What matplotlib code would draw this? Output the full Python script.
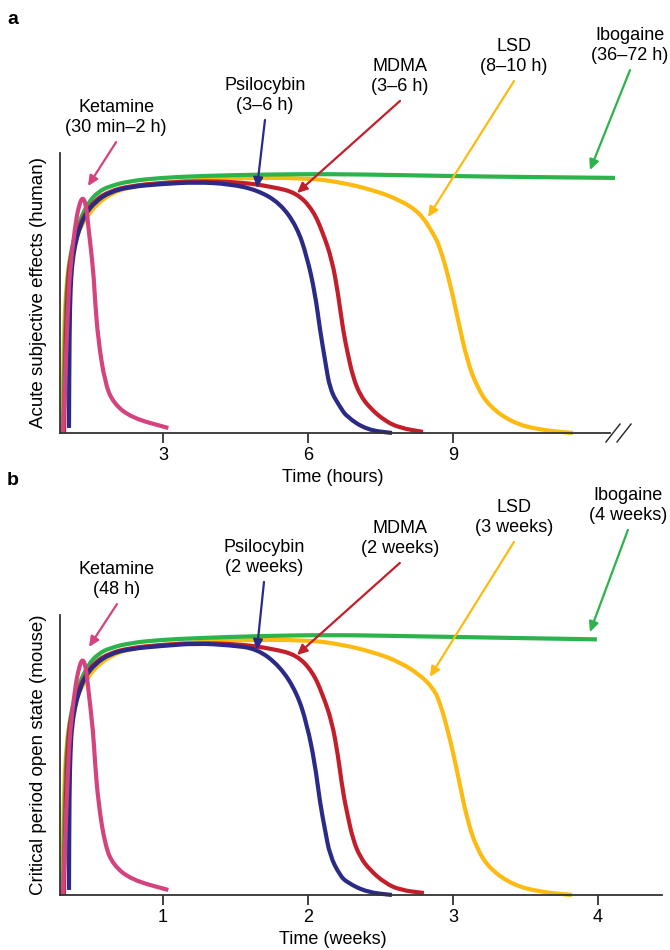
import matplotlib
matplotlib.use("Agg")
import matplotlib.pyplot as plt
from matplotlib.path import Path
from matplotlib.patches import PathPatch

plt.rcParams["font.family"] = ["Liberation Sans", "DejaVu Sans"]

# colours of the five drugs
PINK = "#d5437f"
BLUE = "#2b2a87"
RED = "#c21f2b"
YELLOW = "#fdbb12"
GREEN = "#2db34b"

# ---- panel a: acute effects, time in hours, effect normalised 0..1 ---------
ket_h = [0.93, 1.04, 1.076, 1.18, 1.26, 1.34, 1.41, 1.455, 1.558, 1.593, 1.66, 1.80, 1.97, 2.35, 3.11]
ket_a = [0.0, 0.475, 0.582, 0.737, 0.814, 0.844, 0.814, 0.737, 0.582, 0.475, 0.332, 0.179, 0.107, 0.054, 0.018]

psi_h = [1.055, 1.066, 1.086, 1.117, 1.179, 1.262, 1.386, 1.593, 1.904, 2.317, 2.938, 3.704, 4.387,
         4.945, 5.421, 5.773, 5.980, 6.145, 6.249, 6.352, 6.456, 6.663, 6.807, 7.221, 7.738]
psi_a = [0.018, 0.368, 0.511, 0.600, 0.671, 0.725, 0.779, 0.825, 0.861, 0.879, 0.889, 0.896, 0.889,
         0.868, 0.821, 0.736, 0.629, 0.500, 0.368, 0.261, 0.154, 0.093, 0.057, 0.011, 0.0]

mdma_h = [0.952, 0.993, 1.035, 1.097, 1.200, 1.366, 1.593, 1.904, 2.317, 2.938, 3.704, 4.593, 5.276,
          5.773, 6.104, 6.311, 6.497, 6.621, 6.725, 6.828, 6.932, 7.076, 7.283, 7.594, 7.904, 8.380]
mdma_a = [0.0, 0.368, 0.546, 0.636, 0.707, 0.779, 0.832, 0.864, 0.882, 0.893, 0.900, 0.896, 0.879,
          0.857, 0.796, 0.714, 0.618, 0.500, 0.368, 0.279, 0.200, 0.136, 0.089, 0.043, 0.018, 0.004]

lsd_h = [0.910, 0.952, 0.993, 1.055, 1.159, 1.283, 1.448, 1.655, 1.945, 2.317, 2.938, 3.766, 4.593, 5.980,
         6.662, 7.345, 7.904, 8.318, 8.587, 8.732, 8.939, 9.104, 9.290, 9.497, 9.766, 10.242, 10.801, 11.484]
lsd_a = [0.0, 0.368, 0.511, 0.611, 0.679, 0.732, 0.779, 0.821, 0.857, 0.879, 0.893, 0.904, 0.911, 0.911,
         0.896, 0.868, 0.832, 0.786, 0.714, 0.664, 0.536, 0.404, 0.261, 0.164, 0.093, 0.036, 0.011, 0.0]

ibo_h = [0.931, 0.972, 1.014, 1.076, 1.159, 1.283, 1.448, 1.655, 1.904, 2.317, 2.938, 3.766, 5.007,
         6.456, 7.904, 9.559, 12.352]
ibo_a = [0.0, 0.368, 0.529, 0.625, 0.696, 0.761, 0.821, 0.861, 0.882, 0.900, 0.911, 0.918, 0.923,
         0.925, 0.921, 0.916, 0.911]

# ---- panel b: critical period open state, time in weeks ----------------------
ket_w = [0.310, 0.347, 0.359, 0.393, 0.421, 0.446, 0.469, 0.485, 0.519, 0.531, 0.554, 0.600, 0.657, 0.784, 1.037]
ket_b = [0.0, 0.475, 0.582, 0.737, 0.814, 0.845, 0.814, 0.737, 0.582, 0.475, 0.332, 0.179, 0.107, 0.054, 0.018]

psi_w = [0.352, 0.355, 0.362, 0.372, 0.393, 0.421, 0.462, 0.531, 0.634, 0.772, 0.979, 1.234, 1.462,
         1.648, 1.807, 1.924, 1.993, 2.048, 2.083, 2.117, 2.152, 2.221, 2.269, 2.407, 2.579]
psi_b = [0.018, 0.368, 0.511, 0.600, 0.671, 0.725, 0.779, 0.825, 0.861, 0.879, 0.889, 0.899, 0.892,
         0.880, 0.817, 0.722, 0.610, 0.470, 0.330, 0.235, 0.140, 0.070, 0.045, 0.010, 0.0]

mdma_w = [0.317, 0.331, 0.345, 0.366, 0.400, 0.455, 0.531, 0.634, 0.772, 0.979, 1.234, 1.531, 1.759,
          1.924, 2.034, 2.103, 2.166, 2.207, 2.241, 2.276, 2.310, 2.359, 2.428, 2.531, 2.634, 2.800]
mdma_b = [0.0, 0.368, 0.546, 0.636, 0.707, 0.779, 0.832, 0.864, 0.882, 0.893, 0.900, 0.896, 0.879,
          0.857, 0.796, 0.714, 0.618, 0.500, 0.368, 0.279, 0.200, 0.136, 0.089, 0.043, 0.018, 0.007]

lsd_w = [0.303, 0.317, 0.331, 0.352, 0.386, 0.428, 0.483, 0.552, 0.648, 0.772, 0.979, 1.255, 1.531, 1.993,
         2.221, 2.448, 2.634, 2.772, 2.862, 2.910, 2.979, 3.034, 3.097, 3.166, 3.255, 3.414, 3.600, 3.821]
lsd_b = [0.0, 0.368, 0.511, 0.611, 0.679, 0.732, 0.779, 0.821, 0.857, 0.879, 0.893, 0.904, 0.911, 0.911,
         0.896, 0.868, 0.832, 0.786, 0.740, 0.690, 0.560, 0.430, 0.270, 0.164, 0.093, 0.036, 0.011, 0.0]

ibo_w = [0.310, 0.324, 0.338, 0.359, 0.386, 0.428, 0.483, 0.552, 0.634, 0.772, 0.979, 1.255, 1.669,
         2.152, 2.634, 3.186, 3.993]
ibo_b = [0.0, 0.368, 0.529, 0.625, 0.696, 0.761, 0.821, 0.861, 0.882, 0.900, 0.911, 0.918, 0.925,
         0.929, 0.925, 0.920, 0.913]

# labels: (name, duration) per panel
names = ["Ketamine", "Psilocybin", "MDMA", "LSD", "Ibogaine"]
durations_a = ["(30 min\u20132 h)", "(3\u20136 h)", "(3\u20136 h)", "(8\u201310 h)", "(36\u201372 h)"]
durations_b = ["(48 h)", "(2 weeks)", "(2 weeks)", "(3 weeks)", "(4 weeks)"]
colors = [PINK, BLUE, RED, YELLOW, GREEN]

# label anchor (x, y) and arrow tip (x, y) in data units of each panel
label_pos_a = [(2.03, 1.039), (5.11, 1.118), (7.904, 1.186), (10.263, 1.257), (12.663, 1.296)]
tip_pos_a = [(1.448, 0.882), (4.945, 0.875), (5.773, 0.857), (8.483, 0.771), (11.835, 0.939)]
label_pos_b = [(0.683, 1.039), (1.697, 1.118), (2.634, 1.186), (3.421, 1.261), (4.207, 1.304)]
tip_pos_b = [(0.490, 0.886), (1.648, 0.875), (1.924, 0.857), (2.841, 0.779), (3.945, 0.939)]

W, H = 670, 950
fig = plt.figure(figsize=(W / 100, H / 100), dpi=100)


def make_axes(top_px, xlim, ticks, xlabel, ylabel):
    ax = fig.add_axes([60 / W, 1 - (top_px + 280) / H, 602 / W, 280 / H])
    ax.set_xlim(*xlim)
    ax.set_ylim(0, 1)
    for s in ["top", "right"]:
        ax.spines[s].set_visible(False)
    for s in ["left", "bottom"]:
        ax.spines[s].set_color("#333333")
        ax.spines[s].set_linewidth(1.3)
    ax.set_yticks([])
    ax.set_xticks(ticks)
    ax.tick_params(axis="x", direction="out", length=7, width=1.3, color="#333333",
                   labelsize=13, pad=3)
    ax.set_xlabel(xlabel, fontsize=13)
    ax.xaxis.set_label_coords(0.4535, -0.128)
    ax.set_ylabel(ylabel, fontsize=13.5)
    ax.yaxis.set_label_coords(-0.022, 0.5)
    return ax


def smooth_line(ax, x, y, color):
    # quadratic bezier through the midpoints, read points used as control points
    pts = list(zip(x, y))
    verts = [pts[0]]
    codes = [Path.MOVETO]
    mid = lambda p, q: ((p[0] + q[0]) / 2, (p[1] + q[1]) / 2)
    verts.append(mid(pts[0], pts[1]))
    codes.append(Path.LINETO)
    for i in range(1, len(pts) - 1):
        verts += [pts[i], mid(pts[i], pts[i + 1])]
        codes += [Path.CURVE3, Path.CURVE3]
    verts.append(pts[-1])
    codes.append(Path.LINETO)
    patch = PathPatch(Path(verts, codes), fill=False, edgecolor=color, lw=3.0,
                      capstyle="butt", joinstyle="round", clip_on=False)
    ax.add_patch(patch)


def draw_curves(ax, series):
    for x, y, c in series:
        smooth_line(ax, x, y, c)


def draw_labels(ax, durations, label_pos, tip_pos):
    for name, dur, c, (lx, ly), (tx, ty) in zip(names, durations, colors, label_pos, tip_pos):
        ax.annotate("", xy=(tx, ty), xytext=(lx, ly), annotation_clip=False,
                    arrowprops=dict(arrowstyle="-|>,head_length=0.6,head_width=0.28",
                                    color=c, lw=1.6, shrinkA=0, shrinkB=0))
        ax.text(lx, ly + 0.022, name + "\n" + dur, ha="center", va="bottom",
                fontsize=13, linespacing=1.2, clip_on=False)


# ---- panel a ----------------------------------------------------------------
ax_a = make_axes(153, (0.869, 13.325), [3, 6, 9], "Time (hours)", "Acute subjective effects (human)")
ax_a.spines["bottom"].set_bounds(0.869, 12.25)
draw_curves(ax_a, [(lsd_h, lsd_a, YELLOW), (ibo_h, ibo_a, GREEN), (mdma_h, mdma_a, RED),
                   (psi_h, psi_a, BLUE), (ket_h, ket_a, PINK)])
draw_labels(ax_a, durations_a, label_pos_a, tip_pos_a)
# axis break marks
for x0, x1 in [(12.166, 12.456), (12.394, 12.684)]:
    ax_a.plot([x0, x1], [-0.032, 0.032], color="#222222", lw=1.0, clip_on=False)

# ---- panel b ----------------------------------------------------------------
ax_b = make_axes(615, (0.29, 4.442), [1, 2, 3, 4], "Time (weeks)", "Critical period open state (mouse)")
draw_curves(ax_b, [(lsd_w, lsd_b, YELLOW), (ibo_w, ibo_b, GREEN), (mdma_w, mdma_b, RED),
                   (psi_w, psi_b, BLUE), (ket_w, ket_b, PINK)])
draw_labels(ax_b, durations_b, label_pos_b, tip_pos_b)

fig.text(13 / W, 1 - 19 / H, "a", fontsize=14, fontweight="bold", ha="center", va="center")
fig.text(13 / W, 1 - 481 / H, "b", fontsize=14, fontweight="bold", ha="center", va="center")

fig.savefig("out.png", dpi=100)
